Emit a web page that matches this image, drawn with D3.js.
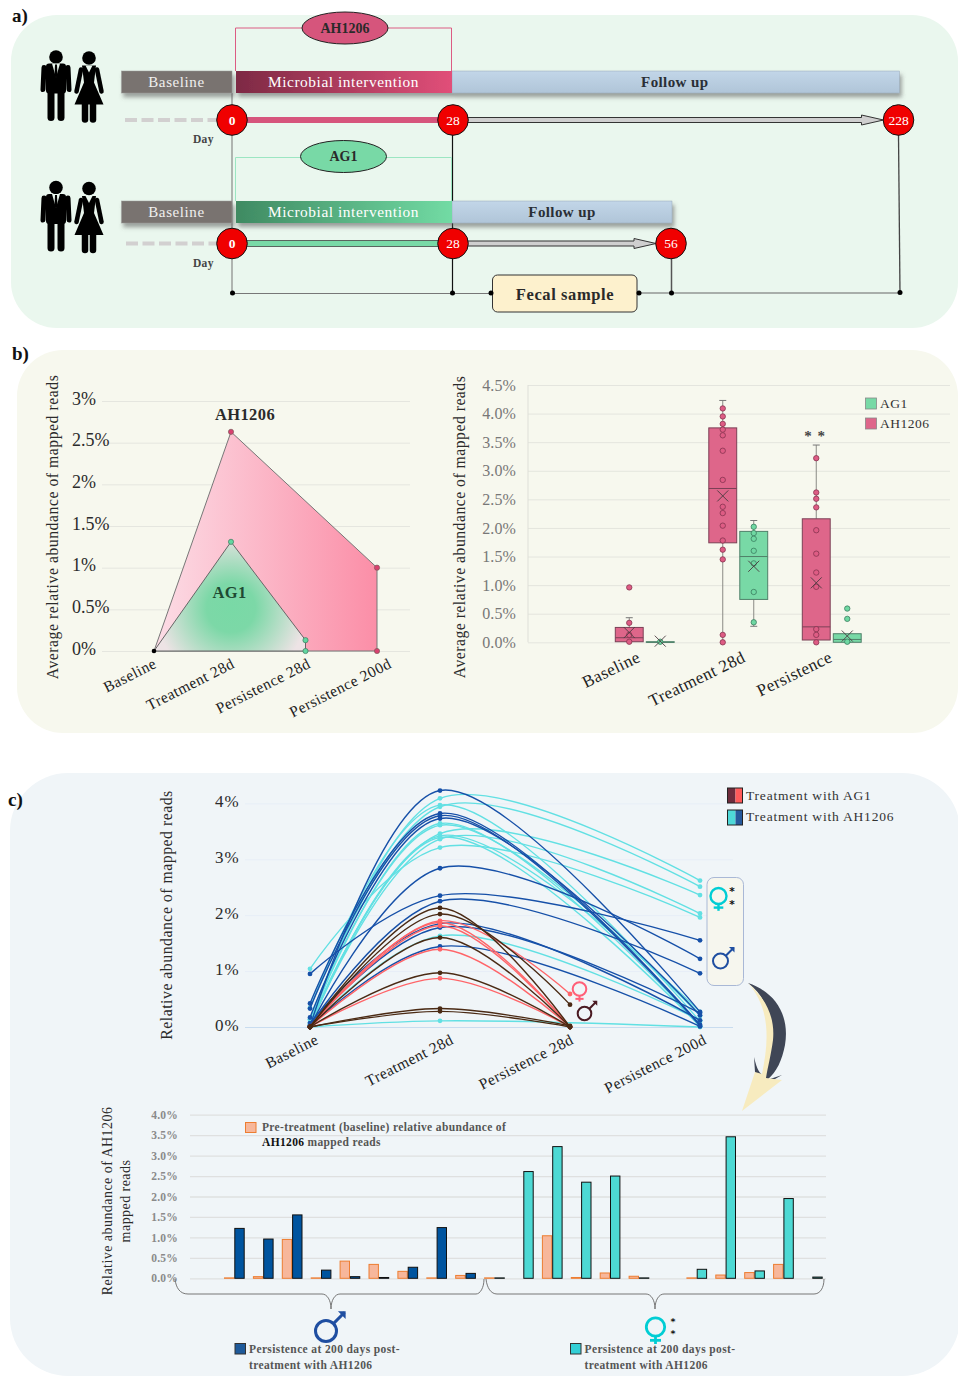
<!DOCTYPE html>
<html>
<head>
<meta charset="utf-8">
<script src="https://cdn.jsdelivr.net/npm/d3@7"></script>
<style>
    html, body { margin: 0; padding: 0; background: #fff; }
    svg { display: block; }
    text { font-family: "Liberation Serif", serif; fill: #2b2b2b; }
</style>
</head>
<body>
<div id="chart"></div>
<script>
// panel a - study timeline
var cohorts = ['AH1206', 'AG1'];
var cohortEndDay = [228, 56];
var timelineDays = [0, 28, 56, 228];

// panel b left - average abundance
var avgCategories = ['Baseline', 'Treatment 28d', 'Persistence 28d', 'Persistence 200d'];
var avgTicks = [0, 0.5, 1, 1.5, 2, 2.5, 3];
var avgAh1206Stages = ['Baseline', 'Treatment 28d', 'Persistence 200d'];
var avgAh1206Values = [0, 2.63, 1.0];
var avgAg1Stages = ['Baseline', 'Treatment 28d', 'Persistence 28d'];
var avgAg1Values = [0, 1.31, 0.13];

// panel b right - box plot
var boxCategories = ['Baseline', 'Treatment 28d', 'Persistence'];
var boxGroups = ['AH1206', 'AG1'];
var boxTicks = [0, 0.5, 1, 1.5, 2, 2.5, 3, 3.5, 4, 4.5];
var ah1206Q1 = [0.01, 1.74, 0.04];
var ah1206Median = [0.08, 2.69, 0.27];
var ah1206Q3 = [0.26, 3.75, 2.16];
var ah1206Low = [0, 0, 0];
var ah1206High = [0.43, 4.23, 3.45];
var ah1206Mean = [0.17, 2.56, 1.04];
var ah1206Points = [
    [0.96, 0.34, 0.13, 0.01],
    [4.09, 3.95, 3.82, 3.72, 3.62, 3.35, 2.84, 2.37, 2.26, 2.04, 1.78, 1.62, 1.45, 0.13, 0],
    [3.22, 2.62, 2.51, 2.36, 1.96, 1.55, 1.22, 0.97, 0.23, 0.13, 0]
];
var ag1Q1 = [0, 0.75, 0];
var ag1Median = [0, 1.5, 0.05];
var ag1Q3 = [0.01, 1.94, 0.15];
var ag1Low = [0, 0.28, 0];
var ag1High = [0.01, 2.13, 0.15];
var ag1Mean = [0.02, 1.33, 0.11];
var ag1Points = [
    [0.01],
    [2.02, 1.91, 1.81, 1.6, 1.38, 0.88, 0.35],
    [0.59, 0.41, 0.01]
];

// panel c top - individual lines
var lineCategories = ['Baseline', 'Treatment 28d', 'Persistence 28d', 'Persistence 200d'];
var lineTicks = [0, 1, 2, 3, 4];
var ah1206Stages = ['Baseline', 'Treatment 28d', 'Persistence 200d'];
var ag1Stages = ['Baseline', 'Treatment 28d', 'Persistence 28d'];
var femaleAh1206 = [
    [0.01, 4.09, 2.62], [0.13, 3.94, 2.51], [0.05, 3.46, 2.36], [1.04, 3.21, 1.96],
    [0.02, 3.36, 2.03], [0.34, 3.97, 0.1], [0.08, 3.64, 0.02], [0.14, 3.61, 0.2],
    [0.01, 3.42, 0.27], [0.01, 3.39, 0.01], [0, 1.63, 0.12], [0, 0.11, 0]
];
var maleAh1206 = [
    [0.95, 2.35, 1.55], [0.01, 2.84, 1.22], [0.03, 2.25, 0.96], [0.01, 4.23, 0.27],
    [0.42, 3.82, 0.04], [0.33, 3.78, 0.02], [0.17, 3.73, 0.21], [0.07, 1.85, 0.12],
    [0.01, 1.78, 0.25], [0.01, 1.44, 0.01]
];
var femaleAg1 = [[0, 1.9, 0.59], [0, 1.87, 0], [0, 1.81, 0], [0, 1.39, 0], [0, 0.87, 0]];
var maleAg1 = [[0, 2.13, 0], [0, 2.02, 0.4], [0, 1.6, 0], [0, 0.97, 0], [0, 0.33, 0.02], [0, 0.28, 0]];

// panel c bottom - paired bars
var barTicks = [0, 0.5, 1, 1.5, 2, 2.5, 3, 3.5, 4];
var barBaseline = [0.01, 0.04, 0.95, 0.01, 0.42, 0.34, 0.17, 0.01, 0.07,
    0.01, 0, 1.04, 0.02, 0.13, 0.05, 0, 0.01, 0.08, 0.14, 0.34, 0];
var barPersistence = [1.22, 0.96, 1.55, 0.2, 0.04, 0.02, 0.27, 1.24, 0.12,
    0.01, 2.61, 3.22, 2.35, 2.5, 0.01, 0, 0.22, 3.46, 0.18, 1.95, 0.03];
var barMaleCount = 9;

var svg = d3.select('#chart').append('svg')
    .attr('width', 958)
    .attr('height', 1376);

var defs = svg.append('defs');

function linearGrad(id, c0, c1) {
    var g = defs.append('linearGradient').attr('id', id);
    g.append('stop').attr('offset', '0%').attr('stop-color', c0);
    g.append('stop').attr('offset', '100%').attr('stop-color', c1);
}
linearGrad('gradRed', '#7d2a44', '#e14f79');
linearGrad('gradGreen', '#3f8a62', '#72dba4');
linearGrad('gradAvgPink', '#fcdde6', '#fb8ea7');

var follow = defs.append('linearGradient').attr('id', 'gradFollow')
    .attr('x1', 0).attr('x2', 0).attr('y1', 0).attr('y2', 1);
follow.append('stop').attr('offset', '0%').attr('stop-color', '#c2d6e8');
follow.append('stop').attr('offset', '100%').attr('stop-color', '#b0c5d8');

var radial = defs.append('radialGradient').attr('id', 'gradAvgGreen')
    .attr('gradientUnits', 'userSpaceOnUse')
    .attr('cx', 231).attr('cy', 608).attr('r', 76);
radial.append('stop').attr('offset', '0%').attr('stop-color', '#79d9a6');
radial.append('stop').attr('offset', '32%').attr('stop-color', '#7cd8a7');
radial.append('stop').attr('offset', '100%').attr('stop-color', '#ede3e5');

var shadow = defs.append('filter').attr('id', 'barShadow')
    .attr('x', '-5%').attr('y', '-20%').attr('width', '112%').attr('height', '170%');
shadow.append('feDropShadow').attr('dx', 2).attr('dy', 4).attr('stdDeviation', 2)
    .attr('flood-color', '#555').attr('flood-opacity', 0.55);

// panel backgrounds
function panel(x, y, w, h, r, color) {
    svg.append('rect').attr('x', x).attr('y', y).attr('width', w).attr('height', h)
        .attr('rx', r).attr('ry', r).attr('fill', color);
}
panel(11, 15, 947, 313, 46, '#eaf7ee');
panel(17, 350, 941, 383, 46, '#f7f8ee');
panel(10, 773, 950, 603, 58, '#f0f5f8');

function panelLetter(t, x, y) {
    svg.append('text').attr('x', x).attr('y', y).attr('font-size', 19).attr('font-weight', 'bold')
        .style('fill', '#111').text(t);
}
panelLetter('a)', 12, 22);
panelLetter('b)', 12, 360);
panelLetter('c)', 8, 806);

// two stars stacked beside a symbol
function stackedStars(x, y, gap, size) {
    [y, y + gap].forEach(function (sy) {
        svg.append('text').attr('x', x).attr('y', sy).attr('text-anchor', 'middle').attr('font-size', size)
            .attr('font-weight', 'bold').style('font-family', '"DejaVu Sans", sans-serif').style('fill', '#111').text('*');
    });
}

// ------------- sex symbols
function maleSymbol(cx, cy, r, color, w) {
    var d = r * 0.707, len = r * 1.05, head = r * 0.62;
    var g = svg.append('g').attr('fill', 'none').attr('stroke', color).attr('stroke-width', w);
    g.append('circle').attr('cx', cx).attr('cy', cy).attr('r', r);
    var tx = cx + d + len, ty = cy - d - len;
    g.append('line').attr('x1', cx + d).attr('y1', cy - d).attr('x2', tx).attr('y2', ty);
    g.append('path').attr('fill', color).attr('stroke', 'none')
        .attr('d', 'M' + (tx + w * 0.4) + ',' + (ty - w * 0.4) + 'L' + (tx - head) + ',' + (ty - w * 0.4) +
            'L' + (tx + w * 0.4) + ',' + (ty + head) + 'Z');
}
function femaleSymbol(cx, cy, r, color, w) {
    var g = svg.append('g').attr('fill', 'none').attr('stroke', color).attr('stroke-width', w);
    g.append('circle').attr('cx', cx).attr('cy', cy).attr('r', r);
    g.append('line').attr('x1', cx).attr('y1', cy + r).attr('x2', cx).attr('y2', cy + r * 1.85);
    g.append('line').attr('x1', cx - r * 0.6).attr('y1', cy + r * 1.45).attr('x2', cx + r * 0.6).attr('y2', cy + r * 1.45);
}

// ------------- panel a
var dayX = d3.scaleLinear().domain(timelineDays).range([232, 453, 671, 898.5]);
var rowY = d3.scaleOrdinal().domain(cohorts).range([120, 243.5]);
var rowStyle = {
    AH1206: { bar: 71, oval: 28, ovalX: 345, fill: '#d6557c', line: '#dc5c83', grad: 'gradRed', dash: 125 },
    AG1: { bar: 201, oval: 156.5, ovalX: 343.5, fill: '#78d9a6', line: '#9ce6c2', grad: 'gradGreen', dash: 126 }
};

function person(g, kind) {
    g.append('circle').attr('cx', 0).attr('cy', -6.5).attr('r', 6.8).attr('fill', '#000');
    var limbs = g.append('g').attr('stroke', '#000').attr('stroke-linecap', 'round');
    if (kind === 'man') {
        g.append('rect').attr('x', -10).attr('y', 0).attr('width', 20).attr('height', 30).attr('rx', 3).attr('fill', '#000');
        limbs.append('line').attr('x1', -12).attr('y1', 4).attr('x2', -13).attr('y2', 26).attr('stroke-width', 5);
        limbs.append('line').attr('x1', 12).attr('y1', 4).attr('x2', 13).attr('y2', 26).attr('stroke-width', 5);
        limbs.append('line').attr('x1', -5).attr('y1', 28).attr('x2', -5).attr('y2', 54).attr('stroke-width', 7);
        limbs.append('line').attr('x1', 5).attr('y1', 28).attr('x2', 5).attr('y2', 54).attr('stroke-width', 7);
        g.append('path').attr('d', 'M-4,0L0,14L4,0Z').attr('fill', '#eaf7ee');
        g.append('path').attr('d', 'M-1,1L1,1L1.5,12L0,15L-1.5,12Z').attr('fill', '#000');
    } else {
        g.append('path').attr('d', 'M-7,1L7,1L5,18L14.5,40L-14.5,40L-5,18Z').attr('fill', '#000');
        limbs.append('line').attr('x1', -8).attr('y1', 5).attr('x2', -12.5).attr('y2', 27).attr('stroke-width', 4.5);
        limbs.append('line').attr('x1', 8).attr('y1', 5).attr('x2', 12.5).attr('y2', 27).attr('stroke-width', 4.5);
        limbs.append('line').attr('x1', -4).attr('y1', 40).attr('x2', -4).attr('y2', 55).attr('stroke-width', 6.5);
        limbs.append('line').attr('x1', 4).attr('y1', 40).attr('x2', 4).attr('y2', 55).attr('stroke-width', 6.5);
        g.append('path').attr('d', 'M-3.5,1L0,8L3.5,1Z').attr('fill', '#eaf7ee');
    }
}

var timeline = svg.append('g');

// connector lines that sit behind everything
timeline.append('line').attr('x1', dayX(0)).attr('x2', dayX(0)).attr('y1', 93).attr('y2', 293)
    .attr('stroke', '#9b9f9b').attr('stroke-width', 1.5);
timeline.append('line').attr('x1', dayX(28) - 0.5).attr('x2', dayX(28) - 0.5).attr('y1', 135).attr('y2', 293)
    .attr('stroke', '#111').attr('stroke-width', 1.2);
timeline.append('line').attr('x1', dayX(56) + 0.5).attr('x2', dayX(56) + 0.5).attr('y1', 258).attr('y2', 293)
    .attr('stroke', '#555').attr('stroke-width', 1.5);
timeline.append('line').attr('x1', dayX(228)).attr('x2', dayX(228) + 1.5).attr('y1', 135).attr('y2', 293)
    .attr('stroke', '#444').attr('stroke-width', 1.3);
timeline.append('line').attr('x1', dayX(0)).attr('x2', 492).attr('y1', 293.5).attr('y2', 293.5)
    .attr('stroke', '#777').attr('stroke-width', 1);
timeline.append('line').attr('x1', 638).attr('x2', dayX(228) + 1.5).attr('y1', 293).attr('y2', 293)
    .attr('stroke', '#666').attr('stroke-width', 1.2);

cohorts.forEach(function (c, i) {
    var y = rowY(c), s = rowStyle[c], endDay = cohortEndDay[i];
    var top = s.bar, h = 22;

    // people
    var py = (i === 0) ? 63.5 : 194;
    person(timeline.append('g').attr('transform', 'translate(56,' + py + ')'), 'man');
    person(timeline.append('g').attr('transform', 'translate(89,' + (py + 1) + ')'), 'woman');

    // connector to the oval
    timeline.append('path')
        .attr('d', 'M235.5,' + top + 'V' + (s.oval + (i === 0 ? 0 : 1)) + 'H451.5V' + top)
        .attr('fill', 'none').attr('stroke', s.line).attr('stroke-width', 1);
    timeline.append('ellipse').attr('cx', s.ovalX).attr('cy', s.oval).attr('rx', 43).attr('ry', 16)
        .attr('fill', s.fill).attr('stroke', '#222').attr('stroke-width', 1);
    timeline.append('text').attr('x', s.ovalX).attr('y', s.oval + 4.5).attr('text-anchor', 'middle')
        .attr('font-size', 14).attr('font-weight', 'bold').style('fill', '#2a2a2a').text(c);

    // phase bars
    var phase = timeline.append('g').attr('filter', 'url(#barShadow)');
    phase.append('rect').attr('x', 121.5).attr('y', top).attr('width', 110.5).attr('height', h)
        .attr('fill', '#79736f').attr('stroke', '#999').attr('stroke-width', 0.5);
    phase.append('rect').attr('x', dayX(28) - 1).attr('y', top).attr('width', dayX(endDay) + 1 - dayX(28) + 1).attr('height', h)
        .attr('fill', 'url(#gradFollow)').attr('stroke', '#98a8b8').attr('stroke-width', 0.5);
    phase.append('rect').attr('x', 236).attr('y', top).attr('width', dayX(28) - 1 - 236).attr('height', h)
        .attr('fill', 'url(#' + s.grad + ')');

    timeline.append('text').attr('x', 176.5).attr('y', top + 16).attr('text-anchor', 'middle')
        .attr('font-size', 15).attr('letter-spacing', 0.6).style('fill', '#f0efee').text('Baseline');
    timeline.append('text').attr('x', 343.5).attr('y', top + 16).attr('text-anchor', 'middle')
        .attr('font-size', 15.4).attr('letter-spacing', 0.55).style('fill', '#fff').text('Microbial intervention');
    timeline.append('text').attr('x', (dayX(28) + dayX(endDay)) / 2 + (i === 0 ? -1 : 0)).attr('y', top + 16).attr('text-anchor', 'middle')
        .attr('font-size', 15).attr('font-weight', 'bold').attr('letter-spacing', 0.4).style('fill', '#2a2f36').text('Follow up');

    // dashed lead in
    timeline.append('line').attr('x1', s.dash).attr('x2', dayX(0) - 14).attr('y1', y).attr('y2', y)
        .attr('stroke', '#d2d0d0').attr('stroke-width', 4).attr('stroke-dasharray', '12,4.5');

    // intervention bar
    timeline.append('rect').attr('x', dayX(0)).attr('y', y - 3).attr('width', dayX(28) - dayX(0)).attr('height', 6)
        .attr('fill', s.fill).attr('stroke', i === 0 ? 'none' : '#444').attr('stroke-width', 0.8);

    // follow up arrow
    var tip = dayX(endDay) - 15, neck = tip - 22;
    timeline.append('path')
        .attr('d', 'M' + dayX(28) + ',' + (y - 2.5) + 'H' + neck + 'V' + (y - 5) + 'L' + tip + ',' + y +
            'L' + neck + ',' + (y + 5) + 'V' + (y + 2.5) + 'H' + dayX(28) + 'Z')
        .attr('fill', '#cfcfcf').attr('stroke', '#333').attr('stroke-width', 1);

    // day markers
    [0, 28, endDay].forEach(function (d) {
        timeline.append('circle').attr('cx', dayX(d)).attr('cy', y).attr('r', 15.3)
            .attr('fill', '#f00000').attr('stroke', '#111').attr('stroke-width', 1);
        timeline.append('text').attr('x', dayX(d)).attr('y', y + 4.5).attr('text-anchor', 'middle')
            .attr('font-size', 13.5).attr('font-weight', d === 0 ? 'bold' : 'normal').style('fill', '#fff').text(d);
    });

    timeline.append('text').attr('x', 193).attr('y', y + 23).attr('font-size', 11.5).attr('font-weight', 'bold')
        .attr('letter-spacing', 0.3).style('fill', '#444').text('Day');
});

timeline.append('rect').attr('x', 492.5).attr('y', 275).attr('width', 144.5).attr('height', 37).attr('rx', 5)
    .attr('fill', '#fdf1cd').attr('stroke', '#333').attr('stroke-width', 1);
timeline.append('text').attr('x', 565).attr('y', 299.5).attr('text-anchor', 'middle')
    .attr('font-size', 16.5).attr('font-weight', 'bold').attr('letter-spacing', 0.6).style('fill', '#2a2a2a').text('Fecal sample');

[[dayX(0) + 0.5, 293], [dayX(28) - 0.5, 293], [491, 293], [639, 293], [dayX(56) + 0.5, 293], [dayX(228) + 1.5, 292.5]]
    .forEach(function (p) {
        timeline.append('circle').attr('cx', p[0]).attr('cy', p[1]).attr('r', 2.5).attr('fill', '#000');
    });

// ------------- shared axis helpers
function styleGrid(g, color, width) {
    g.select('.domain').remove();
    g.selectAll('.tick line').attr('stroke', color).attr('stroke-width', width);
}
function rotatedAxis(g, size, angle, dy) {
    g.select('.domain').remove();
    g.selectAll('.tick line').remove();
    g.selectAll('.tick text')
        .attr('font-size', size)
        .attr('letter-spacing', 0.45)
        .attr('text-anchor', 'end')
        .attr('dy', 0)
        .attr('y', 0)
        .attr('x', 0)
        .attr('transform', 'translate(0,' + dy + ') rotate(' + angle + ')')
        .style('fill', '#222')
        .style('font-family', '"Liberation Serif", serif');
}

// ------------- panel b left
var avgX = d3.scaleOrdinal().domain(avgCategories).range([154, 231, 305.5, 377]);
var avgLabelX = d3.scaleOrdinal().domain(avgCategories).range([157, 235, 311, 392]);
var avgY = d3.scaleLinear().domain([0, 3]).range([651, 401]);
var avg = svg.append('g');

var avgGrid = avg.append('g').attr('transform', 'translate(102,0)')
    .call(d3.axisLeft(avgY).tickValues(avgTicks).tickSize(-308).tickFormat(function (d) { return d + '%'; }));
styleGrid(avgGrid, '#e5e6df', 1);
avgGrid.selectAll('.tick text')
    .attr('x', -30).attr('dy', '0.18em').attr('text-anchor', 'start')
    .attr('font-size', 18).style('fill', '#2b2b2b').style('font-family', '"Liberation Serif", serif');

var avgArea = d3.area()
    .x(function (d) { return avgX(d.stage); })
    .y0(avgY(0))
    .y1(function (d) { return avgY(d.value); });

var avgAh = avgAh1206Stages.map(function (s, i) { return { stage: s, value: avgAh1206Values[i] }; });
var avgAg = avgAg1Stages.map(function (s, i) { return { stage: s, value: avgAg1Values[i] }; });

avg.append('path').datum(avgAh).attr('d', avgArea)
    .attr('fill', 'url(#gradAvgPink)').attr('stroke', '#777').attr('stroke-width', 1);
avg.append('path').datum(avgAg).attr('d', avgArea)
    .attr('fill', 'url(#gradAvgGreen)').attr('stroke', '#666').attr('stroke-width', 1);

avg.selectAll('.avgAhDot').data(avgAh.slice(1).concat([{ stage: 'Persistence 200d', value: 0 }])).enter()
    .append('circle')
    .attr('cx', function (d) { return avgX(d.stage); })
    .attr('cy', function (d) { return avgY(d.value); })
    .attr('r', 2.6).attr('fill', '#d8406f').attr('stroke', '#7d5a5a').attr('stroke-width', 0.7);
avg.selectAll('.avgAgDot').data(avgAg.slice(1).concat([{ stage: 'Persistence 28d', value: 0 }])).enter()
    .append('circle')
    .attr('cx', function (d) { return avgX(d.stage); })
    .attr('cy', function (d) { return avgY(d.value); })
    .attr('r', 2.6).attr('fill', '#62d6a0').attr('stroke', '#3f7a60').attr('stroke-width', 0.7);
avg.append('circle').attr('cx', avgX('Baseline')).attr('cy', avgY(0)).attr('r', 2.3).attr('fill', '#000');

avg.append('text').attr('x', 245).attr('y', 420).attr('text-anchor', 'middle').attr('font-size', 16.5).attr('font-weight', 'bold')
    .attr('letter-spacing', 0.4).style('fill', '#2b2b2b').text('AH1206');
avg.append('text').attr('x', 229.5).attr('y', 598).attr('text-anchor', 'middle').attr('font-size', 16.5).attr('font-weight', 'bold')
    .attr('letter-spacing', 0.3).style('fill', '#1f4a33').text('AG1');

var avgAxis = avg.append('g').attr('transform', 'translate(0,651)').call(d3.axisBottom(avgLabelX));
rotatedAxis(avgAxis, 15.5, -27, 16);

avg.append('text').attr('transform', 'translate(58,527) rotate(-90)').attr('text-anchor', 'middle')
    .attr('font-size', 15.7).attr('letter-spacing', 0.55).text('Average relative abundance of mapped reads');

// ------------- panel b right
var boxX = d3.scaleBand().domain(boxCategories).range([598, 878.5]);
var boxLabelX = d3.scaleOrdinal().domain(boxCategories).range([641, 746, 833]);
var boxInner = d3.scaleBand().domain(boxGroups).range([15.75, 77.75]);
var boxY = d3.scaleLinear().domain([0, 4.5]).range([642.3, 385]);
var boxChart = svg.append('g');

var boxGrid = boxChart.append('g').attr('transform', 'translate(528,0)')
    .call(d3.axisLeft(boxY).tickValues(boxTicks).tickSize(-422).tickPadding(12).tickFormat(function (d) { return d3.format('.1f')(d) + '%'; }));
styleGrid(boxGrid, '#e4e5de', 1);
boxGrid.selectAll('.tick text')
    .attr('font-size', 16).attr('letter-spacing', 0.1)
    .style('fill', '#777').style('font-family', '"Liberation Serif", serif');
boxChart.append('line').attr('x1', 528).attr('x2', 528).attr('y1', boxY(4.5)).attr('y2', boxY(0))
    .attr('stroke', '#dedfd8');

var boxRows = [];
boxCategories.forEach(function (c, i) {
    boxRows.push({ cat: c, group: 'AH1206', q1: ah1206Q1[i], med: ah1206Median[i], q3: ah1206Q3[i], low: ah1206Low[i], high: ah1206High[i], mean: ah1206Mean[i], points: ah1206Points[i] });
    boxRows.push({ cat: c, group: 'AG1', q1: ag1Q1[i], med: ag1Median[i], q3: ag1Q3[i], low: ag1Low[i], high: ag1High[i], mean: ag1Mean[i], points: ag1Points[i] });
});

var boxColor = {
    AH1206: { fill: '#de668a', stroke: '#7c4056', dot: '#de5c84', dotStroke: '#86344f' },
    AG1: { fill: '#78d9a6', stroke: '#4f8069', dot: '#6fd8a2', dotStroke: '#3b7d60' }
};
var boxW = boxInner.bandwidth() * 0.9;

boxRows.forEach(function (d) {
    var cx = boxX(d.cat) + boxInner(d.group) + boxInner.bandwidth() / 2;
    var col = boxColor[d.group];
    var g = boxChart.append('g');
    // whiskers
    g.append('line').attr('x1', cx).attr('x2', cx).attr('y1', boxY(d.low)).attr('y2', boxY(d.high))
        .attr('stroke', '#8a8a85').attr('stroke-width', 1);
    [d.low, d.high].forEach(function (v) {
        if (v > 0.2) {
            g.append('line').attr('x1', cx - 3.5).attr('x2', cx + 3.5).attr('y1', boxY(v)).attr('y2', boxY(v))
                .attr('stroke', '#777').attr('stroke-width', 1);
        }
    });
    // box
    g.append('rect').attr('x', cx - boxW / 2).attr('width', boxW)
        .attr('y', boxY(d.q3)).attr('height', Math.max(0.5, boxY(d.q1) - boxY(d.q3)))
        .attr('fill', col.fill).attr('stroke', col.stroke).attr('stroke-width', 1);
    g.append('line').attr('x1', cx - boxW / 2).attr('x2', cx + boxW / 2).attr('y1', boxY(d.med)).attr('y2', boxY(d.med))
        .attr('stroke', col.stroke).attr('stroke-width', 1);
    // points
    g.selectAll('circle').data(d.points).enter().append('circle')
        .attr('cx', cx).attr('cy', function (v) { return boxY(v); }).attr('r', 2.7)
        .attr('fill', col.dot).attr('stroke', col.dotStroke).attr('stroke-width', 0.8);
    // mean cross
    var my = boxY(d.mean);
    g.append('path').attr('d', 'M' + (cx - 5.5) + ',' + (my - 5.5) + 'L' + (cx + 5.5) + ',' + (my + 5.5) +
            'M' + (cx + 5.5) + ',' + (my - 5.5) + 'L' + (cx - 5.5) + ',' + (my + 5.5))
        .attr('stroke', '#4a3a40').attr('stroke-width', 0.9).attr('fill', 'none');
});

boxChart.append('text').attr('x', 815).attr('y', 441).attr('text-anchor', 'middle').attr('font-size', 15)
    .attr('font-weight', 'bold').attr('letter-spacing', 1).style('fill', '#444').text('* *');

[['AG1', 398, '#78d9a6'], ['AH1206', 418, '#de668a']].forEach(function (l) {
    boxChart.append('rect').attr('x', 865.5).attr('y', l[1]).attr('width', 11).attr('height', 11)
        .attr('fill', l[2]).attr('stroke', '#888').attr('stroke-width', 0.8);
    boxChart.append('text').attr('x', 880).attr('y', l[1] + 10).attr('font-size', 13.5).attr('letter-spacing', 0.5)
        .style('fill', '#333').text(l[0]);
});

var boxAxis = boxChart.append('g').attr('transform', 'translate(0,642)').call(d3.axisBottom(boxLabelX));
rotatedAxis(boxAxis, 17, -26, 19);

boxChart.append('text').attr('transform', 'translate(465,527) rotate(-90)').attr('text-anchor', 'middle')
    .attr('font-size', 15.7).attr('letter-spacing', 0.5).text('Average relative abundance of mapped reads');

// ------------- panel c top
var lineX = d3.scalePoint().domain(lineCategories).range([310, 700]);
var lineLabelX = d3.scaleOrdinal().domain(lineCategories).range([319, 454, 574, 707]);
var lineY = d3.scaleLinear().domain([0, 4]).range([1027, 803.4]);
var lines = svg.append('g');

var lineGrid = lines.append('g').attr('transform', 'translate(245,0)')
    .call(d3.axisLeft(lineY).tickValues(lineTicks).tickSize(-488).tickFormat(function (d) { return d + '%'; }));
styleGrid(lineGrid, '#e7eef7', 1);
lineGrid.select('.tick line').attr('stroke', '#c9dcef');
lineGrid.selectAll('.tick text')
    .attr('x', -30).attr('dy', '0.18em').attr('text-anchor', 'start')
    .attr('font-size', 17).attr('letter-spacing', 1)
    .style('fill', '#2b2b2b').style('font-family', '"Liberation Serif", serif');

var linePath = d3.line().curve(d3.curveCatmullRom.alpha(0.5));

function drawSeries(rows, stages, color, width) {
    rows.forEach(function (vals) {
        var pts = vals.map(function (v, i) { return [lineX(stages[i]), lineY(v)]; });
        lines.append('path').attr('d', linePath(pts)).attr('fill', 'none')
            .attr('stroke', color).attr('stroke-width', width);
        lines.selectAll(null).data(pts).enter().append('circle')
            .attr('cx', function (p) { return p[0]; })
            .attr('cy', function (p) { return p[1]; })
            .attr('r', 2.4).attr('fill', color);
    });
}
drawSeries(femaleAh1206, ah1206Stages, '#62e0e3', 1.4);
drawSeries(maleAh1206, ah1206Stages, '#1650a8', 1.4);
drawSeries(femaleAg1, ag1Stages, '#ff6468', 1.4);
drawSeries(maleAg1, ag1Stages, '#4a2a14', 1.4);

var lineAxis = lines.append('g').attr('transform', 'translate(0,1027)').call(d3.axisBottom(lineLabelX));
rotatedAxis(lineAxis, 15.5, -27, 16);

lines.append('text').attr('transform', 'translate(172,915) rotate(-90)').attr('text-anchor', 'middle')
    .attr('font-size', 15.8).attr('letter-spacing', 0.5).text('Relative abundance of mapped reads');

// legend
function halfSwatch(x, y, c0, c1) {
    svg.append('rect').attr('x', x).attr('y', y).attr('width', 8).attr('height', 15).attr('fill', c0);
    svg.append('rect').attr('x', x + 8).attr('y', y).attr('width', 7).attr('height', 15).attr('fill', c1);
    svg.append('rect').attr('x', x).attr('y', y).attr('width', 15).attr('height', 15).attr('fill', 'none').attr('stroke', '#222');
}
halfSwatch(727.5, 788, '#6e2c3c', '#ff5a5a');
halfSwatch(727.5, 810, '#4ed8d8', '#26599c');
svg.append('text').attr('x', 746).attr('y', 800).attr('font-size', 13.5).attr('letter-spacing', 0.8).style('fill', '#333').text('Treatment with AG1');
svg.append('text').attr('x', 746).attr('y', 821).attr('font-size', 13.5).attr('letter-spacing', 0.8).style('fill', '#333').text('Treatment with AH1206');

// sex box and symbols
svg.append('rect').attr('x', 707).attr('y', 877.5).attr('width', 36.5).attr('height', 108).attr('rx', 7)
    .attr('fill', '#f6f6ee').attr('stroke', '#a9b8d6').attr('stroke-width', 1);
femaleSymbol(718.5, 896, 8, '#00cdd4', 2.4);
maleSymbol(720.5, 961, 7.5, '#1f4ea1', 2);
femaleSymbol(579.5, 989, 6.8, '#ff5f78', 2);
maleSymbol(584.5, 1013.5, 6.8, '#4a1a22', 2);
stackedStars(732, 895, 13, 10.5);

// curved arrow from the box to the bars
svg.append('path').attr('d', 'M748,983C775,992 790,1015 785,1045C782,1060 777,1072 767,1080L782,1075L768,1083C762,1083 758,1082 755,1072L754,1057C757,1070 760,1074 763,1075C774,1050 778,1005 748,983Z')
    .attr('fill', '#3f4656');
svg.append('path').attr('d', 'M748,983C768,1000 775,1020 773,1040C771,1055 768,1066 766,1078L782,1080L742,1111L755,1072L762,1074C768,1045 772,1010 748,983Z')
    .attr('fill', '#f7ebbf');

// ------------- panel c bottom
var pairIndex = d3.range(barBaseline.length);
var barX = d3.scaleBand().domain(pairIndex).range([224.85, 224.85 + 28.9 * 21]);
var pairW = 10.3;
var barY = d3.scaleLinear().domain([0, 4]).range([1278.3, 1114.7]);
var bars = svg.append('g');

var barGrid = bars.append('g').attr('transform', 'translate(190,0)')
    .call(d3.axisLeft(barY).tickValues(barTicks).tickSize(-636).tickPadding(12).tickFormat(function (d) { return d3.format('.1f')(d) + '%'; }));
styleGrid(barGrid, '#dfe0e0', 1.3);
barGrid.selectAll('.tick text')
    .attr('font-size', 11.5).attr('letter-spacing', 0.2).attr('font-weight', 'bold')
    .style('fill', '#8a8a8a').style('font-family', '"Liberation Serif", serif');

bars.selectAll('.base').data(pairIndex.filter(function (i) { return barBaseline[i] > 0; })).enter().append('rect')
    .attr('x', function (i) { return barX(i) + barX.bandwidth() / 2 - pairW - 4.7 + 0.2; })
    .attr('width', 9.4)
    .attr('y', function (i) { return barY(barBaseline[i]); })
    .attr('height', function (i) { return barY(0) - barY(barBaseline[i]); })
    .attr('fill', '#f7b79b').attr('stroke', '#ed7d31').attr('stroke-width', 1);

bars.selectAll('.persist').data(pairIndex.filter(function (i) { return barPersistence[i] > 0; })).enter().append('rect')
    .attr('x', function (i) { return barX(i) + barX.bandwidth() / 2 - 4.7 + 0.2; })
    .attr('width', 9.4)
    .attr('y', function (i) { return barY(barPersistence[i]); })
    .attr('height', function (i) { return barY(0) - barY(barPersistence[i]); })
    .attr('fill', function (i) { return i < barMaleCount ? '#00549f' : '#4dd9d4'; })
    .attr('stroke', '#111').attr('stroke-width', 1);

// braces
svg.append('path').attr('d', 'M175,1279C176,1288 180,1294 188,1294H322C327,1294 331,1300 331,1309C331,1300 335,1294 340,1294H476C480,1294 484,1288 484,1279')
    .attr('fill', 'none').attr('stroke', '#777').attr('stroke-width', 1);
svg.append('path').attr('d', 'M486,1279C487,1288 491,1294 497,1294H646C651,1294 655,1300 655,1309C655,1300 659,1294 664,1294H814C820,1294 824,1288 824,1279')
    .attr('fill', 'none').attr('stroke', '#777').attr('stroke-width', 1);

maleSymbol(326, 1331, 10.5, '#1f4ea1', 3);
femaleSymbol(655.5, 1327, 9.2, '#00cdd4', 2.8);
stackedStars(673, 1325, 11.5, 9.5);

// bar legends
svg.append('rect').attr('x', 245.5).attr('y', 1122.5).attr('width', 10.5).attr('height', 10)
    .attr('fill', '#f7b79b').attr('stroke', '#ed7d31');
svg.append('text').attr('x', 262).attr('y', 1131).attr('font-size', 11.5).attr('letter-spacing', 0.35)
    .attr('font-weight', 'bold').style('fill', '#555').text('Pre-treatment (baseline) relative abundance of');
var l2 = svg.append('text').attr('x', 262).attr('y', 1146).attr('font-size', 11.5).attr('letter-spacing', 0.35);
l2.append('tspan').attr('font-weight', 'bold').style('fill', '#111').text('AH1206');
l2.append('tspan').attr('font-weight', 'bold').style('fill', '#555').text(' mapped reads');

function persistLegend(x, fill) {
    svg.append('rect').attr('x', x).attr('y', 1343.5).attr('width', 10.5).attr('height', 10.5)
        .attr('fill', fill).attr('stroke', '#333');
    svg.append('text').attr('x', x + 14).attr('y', 1353).attr('font-size', 11.5).attr('letter-spacing', 0.38)
        .attr('font-weight', 'bold').style('fill', '#555').text('Persistence at 200 days post-');
    svg.append('text').attr('x', x + 14).attr('y', 1369).attr('font-size', 11.5).attr('letter-spacing', 0.38)
        .attr('font-weight', 'bold').style('fill', '#555').text('treatment with AH1206');
}
persistLegend(235, '#1f5a9a');
persistLegend(570.5, '#33cfd6');

svg.append('text').attr('transform', 'translate(112,1201) rotate(-90)').attr('text-anchor', 'middle')
    .attr('font-size', 14).attr('letter-spacing', 0.45).text('Relative abundance of AH1206');
svg.append('text').attr('transform', 'translate(130,1201) rotate(-90)').attr('text-anchor', 'middle')
    .attr('font-size', 14).attr('letter-spacing', 0.45).text('mapped reads');
</script>
</body>
</html>
